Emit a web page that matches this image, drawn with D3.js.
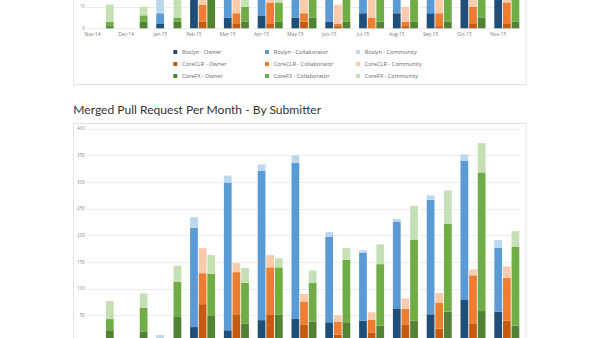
<!DOCTYPE html>
<html><head><meta charset="utf-8">
<script src="https://cdn.jsdelivr.net/npm/d3@7/dist/d3.min.js"></script>
<style>body{margin:0;background:#fff;overflow:hidden}svg{display:block}</style>
</head><body>
<svg id="c" width="600" height="338"></svg>
<script>
// ---- categories ----
const months = ["Nov-14","Dec-14","Jan-15","Feb-15","Mar-15","Apr-15","May-15","Jun-15","Jul-15","Aug-15","Sep-15","Oct-15","Nov-15"];
const repos = ["Roslyn","CoreCLR","CoreFX"];
const roles = ["Owner","Collaborator","Community"];
const chartTitle = "Merged Pull Request Per Month - By Submitter";

// ---- upper chart (only its lower part is visible) ----
const topRoslynOwner        = [0,0,2,18,5,6,5,3,7,7,7,16,15];
const topRoslynCollaborator = [0,0,5,10,14,15,12,14,10,12,11,10,10];
const topRoslynCommunity    = [0,0,9,3,3,2,3,2,2,2,2,2,2];
const topCoreCLROwner        = [0,0,0,3,2,2,3,1,0,1,1,2,2];
const topCoreCLRCollaborator = [0,0,0,8,5,10,4,1,5,2,6,8,10];
const topCoreCLRCommunity    = [0,0,0,6,8,5,9,9,10,7,8,6,5];
const topCoreFXOwner        = [1,3,3,16,3,3,5,3,3,3,3,5,3];
const topCoreFXCollaborator = [2,3,2,8,7,9,10,12,11,12,12,12,13];
const topCoreFXCommunity    = [8,4,10,4,5,4,3,3,3,3,3,3,3];
const topTicks = [0,10];   // ticks visible in the picture

// ---- merged pull requests per month, by submitter ----
const roslynOwner        = [0,0,1,28,22,41,44,37,40,63,52,80,57];
const roslynCollaborator = [0,0,2,186,277,280,292,160,127,163,215,260,120];
const roslynCommunity    = [0,0,10,20,13,12,14,9,5,5,8,12,14];
const coreclrOwner        = [0,0,0,71,52,52,33,14,18,32,25,35,40];
const coreclrCollaborator = [0,0,0,58,79,88,43,24,24,30,49,90,80];
const coreclrCommunity    = [0,0,0,47,17,23,14,12,14,20,18,11,22];
const corefxOwner        = [22,19,47,50,34,51,38,37,31,40,57,58,31];
const corefxCollaborator = [21,45,66,78,77,89,73,117,115,152,165,260,148];
const corefxCommunity    = [34,27,30,35,28,17,23,22,37,63,62,55,29];
const mergedTicks = [50,100,150,200,250,300,350,400];   // ticks visible in the picture

const colors = ["#1f4e79","#5b9bd5","#bdd7ee","#c55a11","#ed7d31","#f8cbad","#548235","#70ad47","#c5e0b4"];

// ---- build tables ----
const keys = [];
repos.forEach(r => roles.forEach(o => keys.push(r + " - " + o)));
function table(arrs){
  return months.map((m,i)=>{
    const row = {month:m};
    keys.forEach((k,j)=> row[k] = arrs[j][i]);
    return row;
  });
}
const topData = table([topRoslynOwner,topRoslynCollaborator,topRoslynCommunity,
  topCoreCLROwner,topCoreCLRCollaborator,topCoreCLRCommunity,
  topCoreFXOwner,topCoreFXCollaborator,topCoreFXCommunity]);
const mergedData = table([roslynOwner,roslynCollaborator,roslynCommunity,
  coreclrOwner,coreclrCollaborator,coreclrCommunity,
  corefxOwner,corefxCollaborator,corefxCommunity]);

const svg = d3.select("#c");
const color = d3.scaleOrdinal().domain(keys).range(colors);
const FONT = "'Open Sans', 'Noto Sans', sans-serif";

// panels
function panel(y0,y1){
  svg.append("rect").attr("x",73.5).attr("y",y0).attr("width",452.5).attr("height",y1-y0)
    .attr("fill","#fff").attr("stroke","#e2e2e2").attr("stroke-width",1);
}
panel(-400,84.5);
panel(123.5,800);

const x0 = d3.scaleBand().domain(months).range([88,520]).paddingInner(0.26).paddingOuter(0.02);
const x1 = d3.scaleBand().domain(repos).range([0,x0.bandwidth()]).paddingInner(0.1);

function drawChart(data, y, ticks, showX){
  const g = svg.append("g");
  g.selectAll(".grid").data(ticks).join("line")
    .attr("x1",87).attr("x2",520)
    .attr("y1",d=>Math.round(y(d))+0.5).attr("y2",d=>Math.round(y(d))+0.5)
    .attr("stroke","#ececec").attr("stroke-width",1);
  g.selectAll(".yl").data(ticks).join("text")
    .attr("x",85).attr("y",d=>y(d)).attr("dy","0.35em")
    .attr("text-anchor","end").attr("font-family",FONT).attr("font-size",4.6)
    .attr("fill","#8a8a8a").text(d=>d);
  repos.forEach(repo=>{
    const ks = roles.map(o=>repo+" - "+o);
    const stacked = d3.stack().keys(ks)(data);
    stacked.forEach(layer=>{
      g.append("g").attr("fill",color(layer.key))
        .selectAll("rect").data(layer).join("rect")
        .attr("x",d=>x0(d.data.month)+x1(repo))
        .attr("width",x1.bandwidth())
        .attr("y",d=>y(d[1]))
        .attr("height",d=>Math.max(0,y(d[0])-y(d[1])));
    });
  });
  if (showX) {
    const xl = y(0) + 6;
    g.selectAll(".xl").data(months).join("text")
      .attr("x",d=>x0(d)+x1("Roslyn")+x1.bandwidth()/2).attr("y",xl).attr("dy","0.35em")
      .attr("text-anchor","middle").attr("font-family",FONT).attr("font-size",4.8)
      .attr("fill","#7a7a7a").text(d=>d);
  }
}

const yTop = d3.scaleLinear().domain([0,100]).range([28.3,-186.7]);
drawChart(topData, yTop, topTicks, true);

const yMerged = d3.scaleLinear().domain([0,400]).range([342,128.7]);
drawChart(mergedData, yMerged, mergedTicks, false);

// legend
const legCols = [173.3, 265, 356];
const legRows = [52, 64, 76];
const leg = svg.append("g");
keys.forEach((k,i)=>{
  const c = i % 3, r = Math.floor(i/3);
  leg.append("rect").attr("x",legCols[c]).attr("y",legRows[r]-2).attr("width",4).attr("height",4).attr("fill",color(k));
  leg.append("text").attr("x",legCols[c]+8.7).attr("y",legRows[r]).attr("dy","0.35em")
    .attr("font-family",FONT).attr("font-size",5.6).attr("fill","#666").text(k);
});

// title
const t = svg.append("text").attr("x",73.3).attr("y",114.3)
  .attr("font-family","Lato, 'Open Sans', sans-serif").attr("font-size",14).attr("fill","#333")
  .text(chartTitle);
const w = t.node().getComputedTextLength();
t.attr("font-size", 14*248/w);
</script>
</body></html>
